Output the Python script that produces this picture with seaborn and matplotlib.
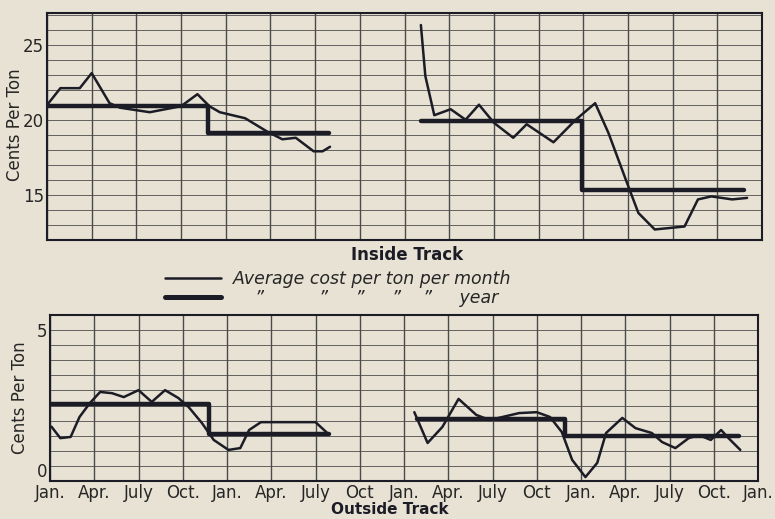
import pandas as pd
import matplotlib.pyplot as plt
import seaborn as sns
from matplotlib.lines import Line2D

# ---- data (months counted from Jan. of the first year) ----
# Inside track, monthly average cost (cents per ton)
inside_m1_x = [0.1, 0.9, 2.2, 3.0, 4.2, 4.9, 6.9, 9.0, 10.1, 10.9, 11.6, 13.3, 14.8, 15.8, 16.7, 17.9, 18.5, 19.0]
inside_m1_y = [21.1, 22.1, 22.1, 23.1, 21.1, 20.8, 20.5, 20.9, 21.7, 20.9, 20.5, 20.1, 19.2, 18.7, 18.8, 17.9, 17.9, 18.2]
inside_m2_x = [25.1, 25.4, 26.0, 27.1, 28.1, 29.0, 30.0, 31.3, 32.2, 34.0, 35.5, 36.8, 37.7, 38.9, 39.7, 40.8, 42.8, 43.7, 44.6, 46.0, 47.0]
inside_m2_y = [26.3, 22.9, 20.3, 20.7, 20.0, 21.0, 19.8, 18.8, 19.7, 18.5, 20.0, 21.1, 19.1, 15.9, 13.8, 12.7, 12.9, 14.7, 14.9, 14.7, 14.8]
# Inside track, yearly average: (start, end, value)
inside_year = [(0.0, 10.8, 20.9), (10.8, 18.9, 19.1), (25.1, 35.9, 19.9), (35.9, 46.8, 15.3)]

# Outside track, monthly average cost
outside_m1_x = [0.1, 0.7, 1.4, 2.0, 2.7, 3.4, 4.2, 5.0, 6.0, 6.9, 7.8, 8.7, 9.4, 10.3, 11.1, 12.1, 12.9, 13.5, 14.3, 15.8, 18.0, 18.8]
outside_m1_y = [1.80, 1.42, 1.46, 2.12, 2.58, 2.95, 2.91, 2.78, 3.01, 2.62, 3.01, 2.75, 2.45, 1.92, 1.36, 1.03, 1.09, 1.69, 1.95, 1.95, 1.95, 1.59]
outside_m2_x = [24.7, 25.6, 26.6, 27.7, 28.9, 29.8, 31.8, 33.0, 33.9, 34.7, 35.4, 36.3, 37.1, 37.7, 38.8, 39.7, 40.8, 41.5, 42.4, 43.3, 44.0, 44.8, 45.5, 46.0, 46.8]
outside_m2_y = [2.28, 1.26, 1.79, 2.72, 2.19, 2.02, 2.25, 2.28, 2.12, 1.62, 0.70, 0.13, 0.60, 1.59, 2.09, 1.75, 1.59, 1.29, 1.09, 1.42, 1.52, 1.36, 1.69, 1.42, 1.03]
outside_year = [(0.0, 10.8, 2.55), (10.8, 18.9, 1.56), (24.9, 34.9, 2.05), (34.9, 46.7, 1.49)]

month_ticks = list(range(0, 49, 3))
month_labels = ["Jan.", "Apr.", "July", "Oct.", "Jan.", "Apr.", "July", "Oct", "Jan.",
                "Apr.", "July", "Oct", "Jan.", "Apr.", "July", "Oct.", "Jan."]


def monthly_df(parts):
    rows = []
    for seg, (xs, ys) in enumerate(parts):
        rows += [{"month": x, "cost": y, "seg": seg} for x, y in zip(xs, ys)]
    return pd.DataFrame(rows)


def yearly_df(steps):
    # join the yearly levels into step paths, one path per pair of years
    rows = []
    seg = 0
    for i, (a, b, v) in enumerate(steps):
        if i > 0 and a != steps[i - 1][1]:
            seg += 1
        rows.append({"month": a, "cost": v, "seg": seg})
        rows.append({"month": b, "cost": v, "seg": seg})
    return pd.DataFrame(rows)


paper = "#e8e2d4"
ink = "#1c1c26"
grid_c = "#4a4a4a"

sns.set_style("white")
plt.rcParams["font.family"] = ["DejaVu Sans"]

fig = plt.figure(figsize=(7.75, 5.19), dpi=100)
fig.patch.set_facecolor(paper)

ax1 = fig.add_axes([47 / 775, 1 - 240 / 519, 715 / 775, 227 / 519])
ax2 = fig.add_axes([50 / 775, 1 - 481 / 519, 708 / 775, 166 / 519])

panels = [
    (ax1, monthly_df([(inside_m1_x, inside_m1_y), (inside_m2_x, inside_m2_y)]), yearly_df(inside_year),
     (12, 27.1), [15, 20, 25], 1.0, (-23 / 715, 0.507)),
    (ax2, monthly_df([(outside_m1_x, outside_m1_y), (outside_m2_x, outside_m2_y)]), yearly_df(outside_year),
     (0, 5.5), [0, 5], 0.5, (-21 / 708, 0.5)),
]

for ax, mdf, ydf, ylim, yticks, step, lab_xy in panels:
    ax.set_facecolor(paper)
    # graph-paper grid
    for m in month_ticks:
        ax.axvline(m, color=grid_c, lw=1.0, zorder=0)
    v = ylim[0]
    while v <= ylim[1] + 1e-9:
        ax.axhline(v, color=grid_c, lw=0.7, alpha=0.85, zorder=0)
        v += step
    sns.lineplot(data=mdf, x="month", y="cost", units="seg", estimator=None, sort=False,
                 color=ink, lw=1.8, ax=ax, zorder=3, solid_joinstyle="round", solid_capstyle="round")
    sns.lineplot(data=ydf, x="month", y="cost", units="seg", estimator=None, sort=False,
                 color=ink, lw=3.2, ax=ax, zorder=4)
    ax.set_xlim(0, 48)
    ax.set_ylim(*ylim)
    ax.set_yticks(yticks)
    ax.tick_params(axis="y", length=0, labelsize=12, pad=2)
    for s in ax.spines.values():
        s.set_color(ink)
        s.set_linewidth(1.5)
    ax.set_ylabel("Cents Per Ton", fontsize=12)
    ax.yaxis.set_label_coords(*lab_xy)

ax1.set_xticks([])
ax1.set_xlabel("")
ax2.set_xticks(month_ticks)
ax2.set_xticklabels(month_labels)
ax2.tick_params(axis="x", length=0, labelsize=12, pad=2)
ax2.set_xlabel("")
ax2.get_yticklabels()[0].set_va("bottom")

fig.text(407 / 775, 1 - 255 / 519, "Inside Track", ha="center", va="center",
         fontsize=12, fontweight="bold", color=ink)
fig.text(390 / 775, 1 - 509 / 519, "Outside Track", ha="center", va="center",
         fontsize=11, fontweight="bold", color=ink)

handles = [Line2D([], [], color=ink, lw=1.8), Line2D([], [], color=ink, lw=3.6)]
labels = ["Average cost per ton per month",
          "    \u201d          \u201d     \u201d     \u201d    \u201d     year"]
fig.legend(handles, labels, loc="upper left", bbox_to_anchor=(165 / 775, 1 - 270 / 519),
           frameon=False, handlelength=3.2, handletextpad=0.7, labelspacing=0.05,
           prop={"style": "italic", "size": 12.5}, borderaxespad=0, borderpad=0)

fig.savefig("out.png", dpi=100, facecolor=paper)
